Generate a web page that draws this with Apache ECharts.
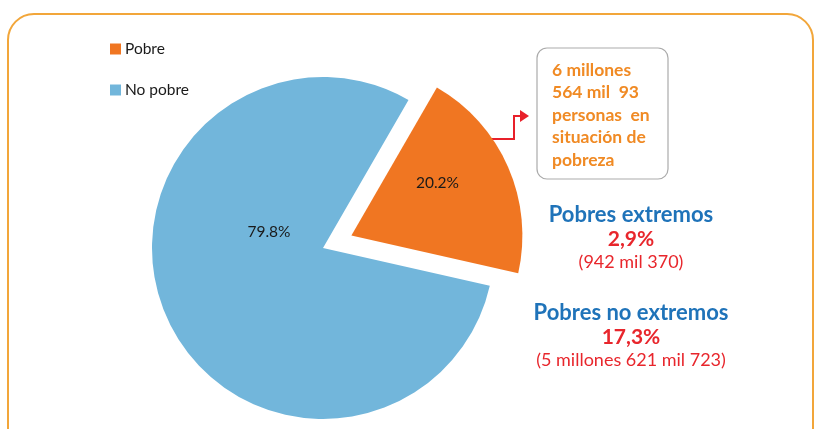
<!DOCTYPE html>
<html>
<head>
<meta charset="utf-8">
<script src="https://cdn.jsdelivr.net/npm/echarts@6/dist/echarts.min.js"></script>
<style>
  html, body { margin: 0; padding: 0; background: #fff; }
  #chart { width: 816px; height: 429px; }
</style>
</head>
<body>
<div id="chart"></div>
<script>
// Poverty split of the population (percent)
const categories = ['Pobre', 'No pobre'];
const shares = [20.2, 79.8];
const sliceColors = ['#F07622', '#72B6DB'];

// Callout and breakdown texts
const calloutLines = ['6 millones', '564 mil  93', 'personas  en', 'situación de', 'pobreza'];
const groupTitles = ['Pobres extremos', 'Pobres no extremos'];
const groupShares = ['2,9%', '17,3%'];
const groupCounts = ['(942 mil 370)', '(5 millones 621 mil 723)'];

const FONT = 'Lato, "Open Sans", sans-serif';

const chart = echarts.init(document.getElementById('chart'), null, { renderer: 'canvas' });

const pieData = categories.map((name, i) => ({
  name,
  value: shares[i],
  selected: i === 0,
  itemStyle: { color: sliceColors[i] }
}));

// Nudges for the in-slice percentage labels
const labelShift = [[5, -17], [27, -51]];

const graphics = [
  // outer rounded frame
  {
    type: 'rect', silent: true, z: 0,
    shape: { x: 8, y: 14, width: 805, height: 445, r: 26 },
    style: { fill: 'none', stroke: '#F2A63A', lineWidth: 2 }
  },
  // callout box
  {
    type: 'rect', silent: true,
    shape: { x: 537, y: 48, width: 131, height: 131, r: 10 },
    style: { fill: '#fff', stroke: '#ABABAB', lineWidth: 1.2 }
  },
  // connector arrow
  {
    type: 'polyline', silent: true,
    shape: { points: [[489, 139], [514, 139], [514, 116], [522, 116]] },
    style: { fill: 'none', stroke: '#E8202A', lineWidth: 2 }
  },
  {
    type: 'polygon', silent: true,
    shape: { points: [[520, 110], [529, 116], [520, 122]] },
    style: { fill: '#E8202A' }
  }
];

calloutLines.forEach((t, i) => {
  graphics.push({
    type: 'text', silent: true,
    x: 552, y: 70 + i * 22.5,
    style: {
      text: t, fill: '#F08A24', font: 'bold 17.5px ' + FONT,
      verticalAlign: 'middle', align: 'left'
    }
  });
});

const groupY = [215, 313];
groupTitles.forEach((t, i) => {
  const y = groupY[i];
  graphics.push({
    type: 'text', silent: true, x: 631, y: y,
    style: { text: t, fill: '#1F73B9', font: 'bold 22px ' + FONT, align: 'center', verticalAlign: 'middle' }
  });
  graphics.push({
    type: 'text', silent: true, x: 631, y: y + 24,
    style: { text: groupShares[i], fill: '#E8262C', font: 'bold 21px ' + FONT, align: 'center', verticalAlign: 'middle' }
  });
  graphics.push({
    type: 'text', silent: true, x: 631, y: y + 47,
    style: { text: groupCounts[i], fill: '#E8262C', font: '18px ' + FONT, align: 'center', verticalAlign: 'middle' }
  });
});

chart.setOption({
  animation: false,
  backgroundColor: '#fff',
  legend: {
    orient: 'vertical',
    left: 105, top: 36,
    itemWidth: 11, itemHeight: 11, itemGap: 25,
    icon: 'rect',
    data: categories,
    textStyle: { fontFamily: FONT, fontSize: 15.5, color: '#1a1a1a', padding: [0, 0, 0, -1] },
    selectedMode: false
  },
  graphic: graphics,
  series: [{
    type: 'pie',
    center: [323, 248],
    radius: [0, 171],
    startAngle: 60,
    clockwise: true,
    selectedMode: 'single',
    selectedOffset: 31,
    silent: true,
    label: {
      show: true,
      position: 'inside',
      formatter: p => p.value.toFixed(1) + '%',
      fontFamily: FONT, fontSize: 15.5, color: '#1a1a1a'
    },
    labelLine: { show: false },
    labelLayout: p => ({ dx: labelShift[p.dataIndex][0], dy: labelShift[p.dataIndex][1] }),
    emphasis: { disabled: true },
    select: { itemStyle: { borderWidth: 0 } },
    data: pieData
  }]
});
</script>
</body>
</html>
